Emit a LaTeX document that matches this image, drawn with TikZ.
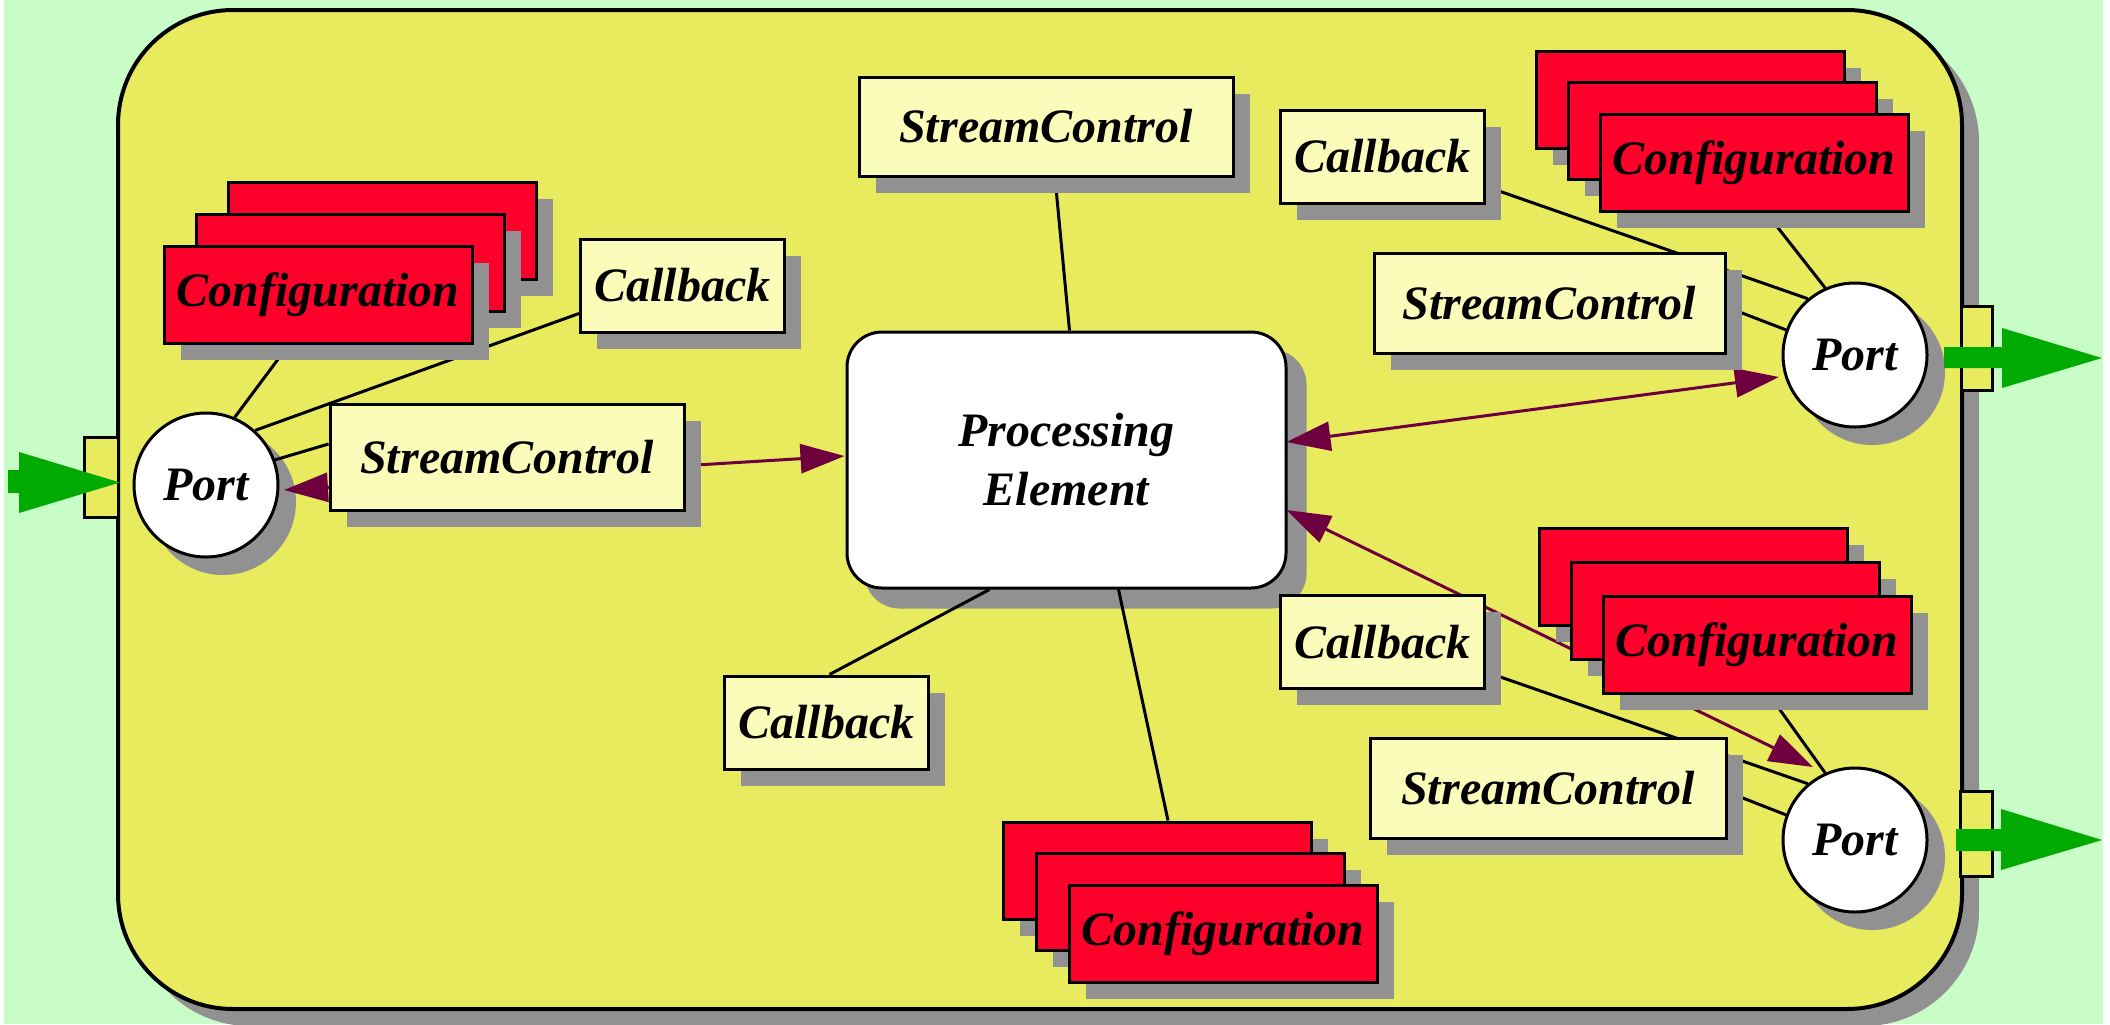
\documentclass[tikz,border=0pt]{standalone}
\usepackage{fontspec}
\setmainfont{Liberation Serif}
\usetikzlibrary{arrows.meta,shadows,calc}
\definecolor{bggreen}{RGB}{200,253,200}
\definecolor{ylw}{RGB}{233,235,94}
\definecolor{ltyellow}{RGB}{252,252,186}
\definecolor{cfgred}{RGB}{255,0,42}
\definecolor{shgray}{RGB}{145,145,145}
\definecolor{purp}{RGB}{110,0,64}
\definecolor{arrgreen}{RGB}{0,170,0}
\newcommand\lblfont{\fontsize{24}{29.5}\selectfont\bfseries\itshape}
\pgfdeclarelayer{back}
\pgfdeclarelayer{bg}
\pgfsetlayers{back,bg,main}
\tikzset{
  box/.style={draw=black, line width=1.5pt, inner sep=0pt, font=\lblfont,
    drop shadow={shadow xshift=8.25pt, shadow yshift=-8.25pt, fill=shgray, opacity=1}},
  cbbox/.style={box, fill=ltyellow, minimum width=102pt, minimum height=46.5pt},
  cfgbox/.style={box, fill=cfgred, minimum width=154pt, minimum height=48.5pt},
  scbox/.style={box, fill=ltyellow},
  portnode/.style={circle, draw=black, line width=1.5pt, fill=white, minimum size=72pt, inner sep=0pt, font=\lblfont},
  penode/.style={rectangle, rounded corners=17.5pt, draw=black, line width=1.5pt, fill=white,
    minimum width=219.5pt, minimum height=128pt, align=center, font=\lblfont},
  conn/.style={draw=black, line width=1.5pt},
  purparrow/.style={draw=purp, line width=1.5pt,
    arrows={Triangle[length=22pt,width=14.5pt]-Triangle[length=22pt,width=14.5pt]}},
  tabbox/.style={fill=ylw, draw=black, line width=1.5pt},
  greenarrow/.style={fill=arrgreen},
}
\begin{document}
\begin{tikzpicture}[x=0.5pt,y=-0.5pt]
\useasboundingbox (0,0) rectangle (2110,1024);

% central element and ports
\node[penode] (pe) at (1066.5,460) {Processing\\Element};
\node[portnode] (pL) at (206,485) {Port};
\node[portnode] (pTR) at (1855,355) {Port};
\node[portnode] (pBR) at (1855,840) {Port};

% left group
\node[cfgbox] (cfL1) at (382,230.5) {};
\node[cfgbox] (cfL2) at (350,262.5) {};
\node[cfgbox] (cfL3) at (318,294.5) {Configuration};
\node[cbbox] (cbL) at (682.5,285.5) {Callback};
\node[scbox, minimum width=177pt, minimum height=53pt] (scL) at (507,457) {StreamControl};

% top / bottom of the element
\node[scbox, minimum width=187pt, minimum height=49.5pt] (scT) at (1046,126.5) {StreamControl};
\node[cbbox] (cbB) at (826.5,722.5) {Callback};
\node[cfgbox] (cfB1) at (1157,870.5) {};
\node[cfgbox] (cfB2) at (1190,901.5) {};
\node[cfgbox] (cfB3) at (1223,933.5) {Configuration};

% top right group
\node[cfgbox] (cfTR1) at (1690,99.5) {};
\node[cfgbox] (cfTR2) at (1722,130.5) {};
\node[cfgbox] (cfTR3) at (1754,162.5) {Configuration};
\node[cbbox] (cbTR) at (1382.5,156.5) {Callback};
\node[scbox, minimum width=175.5pt, minimum height=50pt] (scTR) at (1549.5,303) {StreamControl};

% bottom right group
\node[cfgbox] (cfBR1) at (1693,576.5) {};
\node[cfgbox] (cfBR2) at (1725,610.5) {};
\node[cfgbox] (cfBR3) at (1757,644.5) {Configuration};
\node[cbbox] (cbBR) at (1382.5,642) {Callback};
\node[scbox, minimum width=178pt, minimum height=50pt] (scBR) at (1548,788) {StreamControl};

\begin{pgfonlayer}{back}
  \fill[white] (0,0) rectangle (2110,1024);
  \fill[bggreen] (4,0) rectangle (2103,1024);
  \fill[shgray, rounded corners=57.5pt] (135,27) rectangle (1979,1026);
  \draw[fill=ylw, line width=2pt, rounded corners=57.5pt] (118,10) rectangle (1962,1009);
  \fill[shgray, rounded corners=17.5pt] ($(pe.north west)+(19,19)$) rectangle ($(pe.south east)+(19,19)$);
  \fill[shgray] ($(pL)+(17,17)$) circle[radius=36.5pt];
  \fill[shgray] ($(pTR)+(17,17)$) circle[radius=36.5pt];
  \fill[shgray] ($(pBR)+(17,17)$) circle[radius=36.5pt];
\end{pgfonlayer}

\begin{pgfonlayer}{bg}
  % left port
  \draw[conn] ($(cfL3.south)+(-29,0)$) -- (pL.67);
  \draw[conn] ($(cbL.west)+(0,28)$) -- (pL.48);
  \draw[conn] ($(scL.west)+(0,-13)$) -- (pL.20);
  % top right port
  \draw[conn] ($(cfTR3.south)+(12,0)$) -- (pTR.114);
  \draw[conn] ($(cbTR.east)+(0,30)$) -- (pTR.130);
  \draw[conn] ($(scTR.east)+(0,4)$) -- (pTR.160);
  % bottom right port
  \draw[conn] ($(cfBR3.south)+(12,0)$) -- (pBR.114);
  \draw[conn] ($(cbBR.east)+(0,30)$) -- (pBR.130);
  \draw[conn] ($(scBR.east)+(0,4)$) -- (pBR.160);
  % processing element
  \draw[conn] ($(scT.south)+(9,0)$) -- ($(pe.north)+(3,0)$);
  \draw[conn] ($(cbB.north)+(3,0)$) -- ($(pe.south)+(-77,0)$);
  \draw[conn] ($(pe.south)+(52,0)$) -- ($(cfB1.north)+(11,0)$);
  % data flow
  \draw[purparrow] ($(pL)+(78,5)$) -- ($(pe.west)+(-1,-4)$);
  \draw[purparrow] ($(pe.east)+(-1,-18)$) -- ($(pTR)+(-76,22)$);
  \draw[purparrow] ($(pe.east)+(-1,50)$) -- ($(pBR)+(-42,-73)$);
\end{pgfonlayer}

% tabs on the boundary
\draw[tabbox] (84,437) rectangle (118,517);
\draw[tabbox] (1961,306) rectangle (1992,390);
\draw[tabbox] (1960,791) rectangle (1992,876);

% green stream arrows
\fill[greenarrow] (8,470) -- (19,470) -- (19,452) -- (120,482.5) -- (19,513) -- (19,493) -- (8,493) -- cycle;
\fill[greenarrow] (1944,347) -- (2002,347) -- (2002,328) -- (2102,358) -- (2002,388) -- (2002,368) -- (1944,368) -- cycle;
\fill[greenarrow] (1956,829) -- (2001,829) -- (2001,809) -- (2102,840) -- (2001,870) -- (2001,851) -- (1956,851) -- cycle;
\end{tikzpicture}
\end{document}
